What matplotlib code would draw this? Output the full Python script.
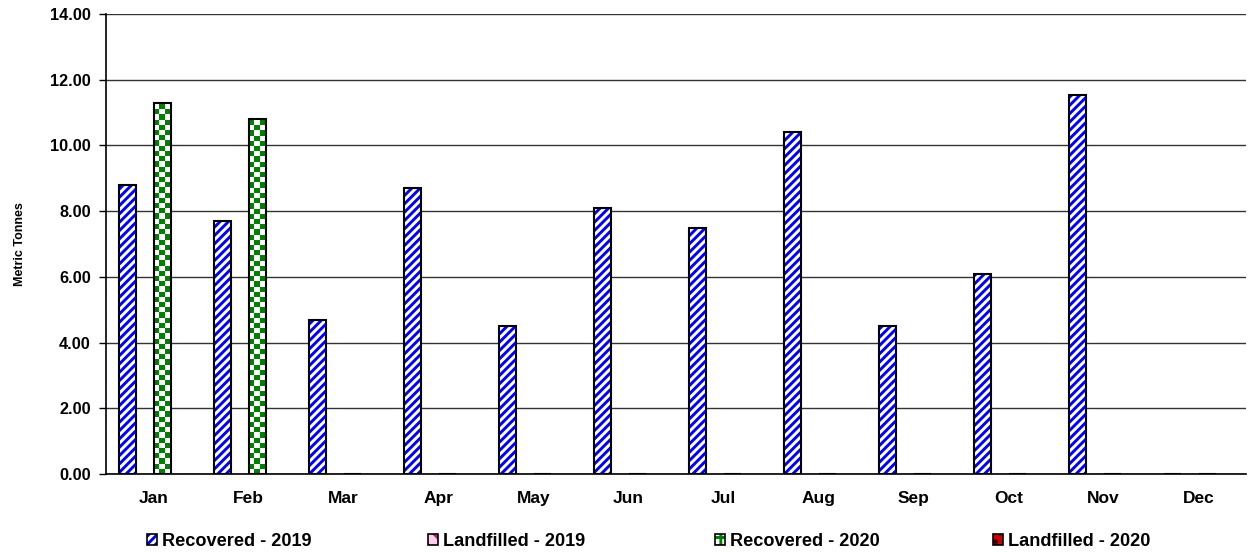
import numpy as np
import matplotlib
matplotlib.use('Agg')
import matplotlib.pyplot as plt
from matplotlib.patches import Patch
from matplotlib.colors import ListedColormap
from matplotlib.legend_handler import HandlerTuple

plt.rcParams['font.family'] = ['Liberation Sans', 'DejaVu Sans']
plt.rcParams['font.weight'] = 'bold'
plt.rcParams['hatch.linewidth'] = 2.1

# data
months = ['Jan', 'Feb', 'Mar', 'Apr', 'May', 'Jun', 'Jul', 'Aug', 'Sep', 'Oct', 'Nov', 'Dec']
recovered_2019 = [8.8, 7.7, 4.7, 8.7, 4.5, 8.1, 7.5, 10.4, 4.5, 6.1, 11.55, 0]
landfilled_2019 = [0, 0, 0, 0, 0, 0, 0, 0, 0, 0, 0, 0]
recovered_2020 = [11.3, 10.8, 0, 0, 0, 0, 0, 0, 0, 0, 0, 0]
landfilled_2020 = [0, 0, 0, 0, 0, 0, 0, 0, 0, 0, 0, 0]
series_names = ['Recovered - 2019', 'Landfilled - 2019', 'Recovered - 2020', 'Landfilled - 2020']

fig = plt.figure(figsize=(12.6, 5.52), dpi=100)
ax = fig.add_axes([106/1260, 78/552, 1140/1260, 460/552])

x = np.arange(len(months))
w = 0.183

# Recovered 2019 - blue diagonal stripes
ax.bar(x - 1.5*w, recovered_2019, w, color='white', edgecolor='blue', hatch='////', linewidth=0, zorder=2)
ax.bar(x - 1.5*w, recovered_2019, w, fill=False, edgecolor='black', linewidth=1.5, zorder=3)

# Landfilled 2019 (all zero)
ax.bar(x - 0.5*w, landfilled_2019, w, color='white', edgecolor='#993366', hatch='\\\\', linewidth=0, zorder=2)

# Recovered 2020 - green checkerboard
bars20 = ax.bar(x + 0.5*w, recovered_2020, w, color='white', linewidth=0, zorder=2)
ax.bar(x + 0.5*w, recovered_2020, w, fill=False, edgecolor='black', linewidth=1.5, zorder=3)

# Landfilled 2020 (all zero)
ax.bar(x + 1.5*w, landfilled_2020, w, color='#CC0000', edgecolor='black', hatch='..', linewidth=0, zorder=2)

ax.set_xlim(-0.5, 11.5)
ax.set_ylim(0, 14)

# checkerboard fill clipped to the 2020 bars
px_per_unit = 460 / 14
cmap = ListedColormap(['white', '#008000'])
for b in bars20:
    h = b.get_height()
    if h <= 0:
        continue
    bw_px = b.get_width() * 1140 / 12
    cell = 5.2
    ncols = max(1, int(round(bw_px / cell)))
    nrows = max(1, int(round(h * px_per_unit / cell)))
    checker = np.indices((nrows, ncols)).sum(0) % 2
    ax.imshow(checker, extent=(b.get_x(), b.get_x() + ncols * cell * 12 / 1140, 0, nrows * cell / px_per_unit),
              cmap=cmap, interpolation='nearest', aspect='auto', origin='lower',
              zorder=2.5, clip_path=b)
ax.set_xlim(-0.5, 11.5)
ax.set_ylim(0, 14)

ax.set_yticks(np.arange(0, 15, 2))
ax.set_yticklabels(['%.2f' % v for v in np.arange(0, 15, 2)])
ax.set_xticks(x)
ax.set_xticklabels(months)
ax.tick_params(axis='y', length=5, width=1, pad=6, labelsize=11.7)
ax.tick_params(axis='x', length=0, pad=12, labelsize=12.5)
ax.yaxis.grid(True, color='#333333', linewidth=1.0)
ax.set_axisbelow(True)
for s in ['top', 'right']:
    ax.spines[s].set_visible(False)
ax.spines['left'].set_linewidth(1.2)
ax.spines['bottom'].set_linewidth(1.2)
ax.set_ylabel('Metric Tonnes', fontsize=9, fontweight='bold', labelpad=0)
ax.yaxis.set_label_coords(-80/1140, 0.5)

# legend
handles = [
    (Patch(facecolor='white', edgecolor='blue', hatch='////', linewidth=0),
     Patch(fill=False, edgecolor='black', linewidth=1.2)),
    (Patch(facecolor='#FFCCEE', edgecolor='#993366', hatch='\\\\', linewidth=0),
     Patch(fill=False, edgecolor='black', linewidth=1.2)),
    (Patch(facecolor='white', edgecolor='#008000', hatch='++', linewidth=0),
     Patch(fill=False, edgecolor='black', linewidth=1.2)),
    (Patch(facecolor='#CC0000', edgecolor='#330000', hatch='..', linewidth=0),
     Patch(fill=False, edgecolor='black', linewidth=1.2)),
]
leg_x = [147, 428, 715, 993]
for hnd, name, lx in zip(handles, series_names, leg_x):
    fig.legend([hnd], [name], loc='center left', bbox_to_anchor=(lx/1260, 1 - 541/552),
               frameon=False, borderpad=0, borderaxespad=0, handlelength=0.55, handleheight=0.55,
               handletextpad=0.25, prop={'size': 13.1, 'weight': 'bold'},
               handler_map={tuple: HandlerTuple(ndivide=1, pad=0)})

fig.savefig('out.png', dpi=100)
